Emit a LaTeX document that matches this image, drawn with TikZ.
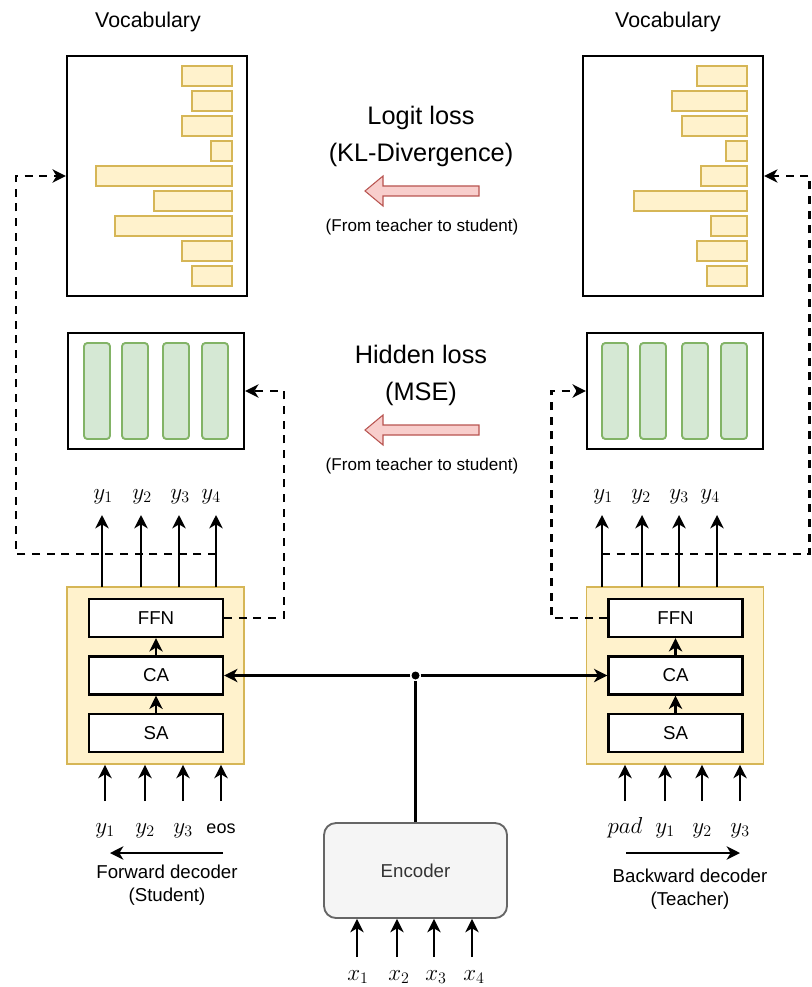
\documentclass[tikz,border=0pt]{standalone}
\usepackage{fontspec}
\setmainfont{Liberation Sans}
\usepackage{amsmath}
\usetikzlibrary{positioning, arrows.meta, calc}
\definecolor{barfill}{HTML}{FFF2CC}
\definecolor{barline}{HTML}{D6B656}
\definecolor{hidfill}{HTML}{D5E8D4}
\definecolor{hidline}{HTML}{82B366}
\definecolor{lossfill}{HTML}{F8CECC}
\definecolor{lossline}{HTML}{B85450}
\definecolor{encfill}{HTML}{F5F5F5}
\definecolor{encline}{HTML}{666666}

\begin{document}
\begin{tikzpicture}[x=0.75pt,y=-0.75pt,>={Stealth[length=10pt,width=10pt,inset=3pt]},
    line width=1.7pt,font=\fontsize{14}{17.25}\selectfont,
    boxframe/.style={draw=black,line width=1.7pt,fill=white,inner sep=0pt},
    vocbox/.style={boxframe,minimum width=135pt,minimum height=180pt},
    hidbox/.style={boxframe,minimum width=132pt,minimum height=87pt},
    layerbox/.style={boxframe,minimum width=100.5pt,minimum height=28.5pt},
    decbox/.style={draw=barline,fill=barfill,line width=1.3pt,minimum width=132.75pt,minimum height=132.75pt,inner sep=0pt},
    encbox/.style={draw=encline,fill=encfill,line width=1.4pt,rounded corners=9pt,minimum width=137.25pt,minimum height=71.25pt,text=black!80},
    vbar/.style={draw=barline,fill=barfill,line width=1.4pt},
    hunit/.style={draw=hidline,fill=hidfill,line width=1.4pt,rounded corners=2.5pt},
    lossarr/.style={draw=lossline,fill=lossfill,line width=0.8pt},
    dashln/.style={dashed,dash pattern=on 6pt off 5pt},
    dot/.style={circle,fill=black,inner sep=0pt,minimum size=6pt},
    tok/.style={font=\fontsize{16.5}{20}\selectfont,inner sep=0pt,anchor=base},
    voctitle/.style={font=\fontsize{16}{19}\selectfont},
    losstext/.style={font=\fontsize{19}{27.75}\selectfont,align=center},
    notetext/.style={font=\fontsize{12.8}{15}\selectfont},
    captext/.style={align=center}]
  \useasboundingbox (0,0) rectangle (811,987);

  % vocabulary distributions
  \node[voctitle] (vtl) at (148,22) {Vocabulary};
  \node[voctitle] (vtr) at (668,22) {Vocabulary};
  \node[vocbox] (vl) at (157,176) {};
  \node[vocbox] (vr) at (673,176) {};
  \foreach \l [count=\i] in {182,192,182,211,96,154,115,182,192}
    \draw[vbar] (\l,{41+25*\i}) rectangle (232,{61+25*\i});
  \foreach \l [count=\i] in {697,672,682,726,701,634,711,697,707}
    \draw[vbar] (\l,{41+25*\i}) rectangle (747,{61+25*\i});

  % hidden states
  \node[hidbox] (hl) at (156,391) {};
  \node[hidbox] (hr) at (675,391) {};
  \foreach \l in {84,122,163,202}
    \draw[hunit] (\l,343) rectangle ++(26,96);
  \foreach \l in {602,640,682,721}
    \draw[hunit] (\l,343) rectangle ++(26,96);

  % losses
  \foreach \y/\name [count=\i] in {0/{Logit loss\\(KL-Divergence)},239/{Hidden loss\\(MSE)}}{
    \node[losstext] (loss\i) at (421,136+\y) {\name};
    \draw[lossarr] (479,186+\y) -- (383,186+\y) -- (383,176+\y) -- (365,191+\y)
      -- (383,206+\y) -- (383,196+\y) -- (479,196+\y) -- cycle;
    \node[notetext] (note\i) at (422,227+\y) {(From teacher to student)};
  }

  % decoders
  \node[decbox] (dl) at (155.5,675.5) {};
  \node[layerbox] (ffnl) at (156,618) {FFN};
  \node[layerbox] (cal) at (156,675.5) {CA};
  \node[layerbox] (sal) at (156,733) {SA};
  \draw[->] (sal) -- (cal);
  \draw[->] (cal) -- (ffnl);

  \node[decbox] (dr) at (675,675.5) {};
  \node[layerbox] (ffnr) at (675.5,618) {FFN};
  \node[layerbox] (car) at (675.5,675.5) {CA};
  \node[layerbox] (sar) at (675.5,733) {SA};
  \draw[->] (sar) -- (car);
  \draw[->] (car) -- (ffnr);

  % encoder
  \node[encbox] (enc) at (415.5,870.5) {Encoder};
  \node[dot] (jn) at (enc.north |- cal.east) {};
  \draw (enc.north) -- (jn);
  \draw[->] (jn) -- (cal.east);
  \draw[->] (jn) -- (car.west);

  % outputs
  \foreach \x/\lx/\t [count=\i] in {102/103/y_1,141/142/y_2,179/180/y_3,216/211/y_4}{
    \node[tok] (ol\i) at (\lx,499) {$\t$};
    \coordinate (olb\i) at (\x,587);
    \draw[->] (olb\i) -- ++(0,-72);
  }
  \foreach \x/\lx/\t [count=\i] in {602/603/y_1,642/641/y_2,679/679/y_3,717/710/y_4}{
    \node[tok] (or\i) at (\lx,499) {$\t$};
    \coordinate (orb\i) at (\x,587);
    \draw[->] (orb\i) -- ++(0,-72);
  }

  % inputs
  \foreach \x/\t [count=\i] in {105/$y_1$,145/$y_2$,183/$y_3$,221/{\fontsize{13.5}{16}\selectfont eos}}{
    \node[tok] (il\i) at (\x,833) {\t};
    \coordinate (ilb\i) at (\x,801);
    \draw[->] (ilb\i) -- (ilb\i |- dl.south);
  }
  \foreach \x/\t [count=\i] in {625/$pad$,665/$y_1$,702/$y_2$,740/$y_3$}{
    \node[tok] (ir\i) at (\x,833) {\t};
    \coordinate (irb\i) at (\x,801);
    \draw[->] (irb\i) -- (irb\i |- dr.south);
  }
  \foreach \x/\lx/\t [count=\i] in {357/358/x_1,397/399/x_2,434/436/x_3,472/474/x_4}{
    \node[tok] (xe\i) at (\lx,980) {$\t$};
    \coordinate (xb\i) at (\x,957);
    \draw[->] (xb\i) -- (xb\i |- enc.south);
  }

  % directions
  \coordinate (fa) at (223,853);
  \coordinate (fb) at (110,853);
  \draw[->] (fa) -- (fb);
  \node[captext] (fc) at (167,885.5) {Forward decoder\\(Student)};
  \coordinate (ba) at (626,853);
  \coordinate (bb) at (740,853);
  \draw[->] (ba) -- (bb);
  \node[captext] (bc) at (690,889) {Backward decoder\\(Teacher)};

  % distillation paths
  \coordinate (jl) at (216,554);
  \coordinate (jr) at (602,554);
  \draw[dashln,->] (ffnl.east) -- ++(60,0) |- (hl.east);
  \draw[dashln,->] (ffnr.west) -- ++(-56,0) |- (hr.west);
  \draw[dashln,->] (jl) -- (16,554) |- (vl.west);
  \draw[dashln,->] (jr) -- (809.5,554) |- (vr.east);
\end{tikzpicture}
\end{document}
